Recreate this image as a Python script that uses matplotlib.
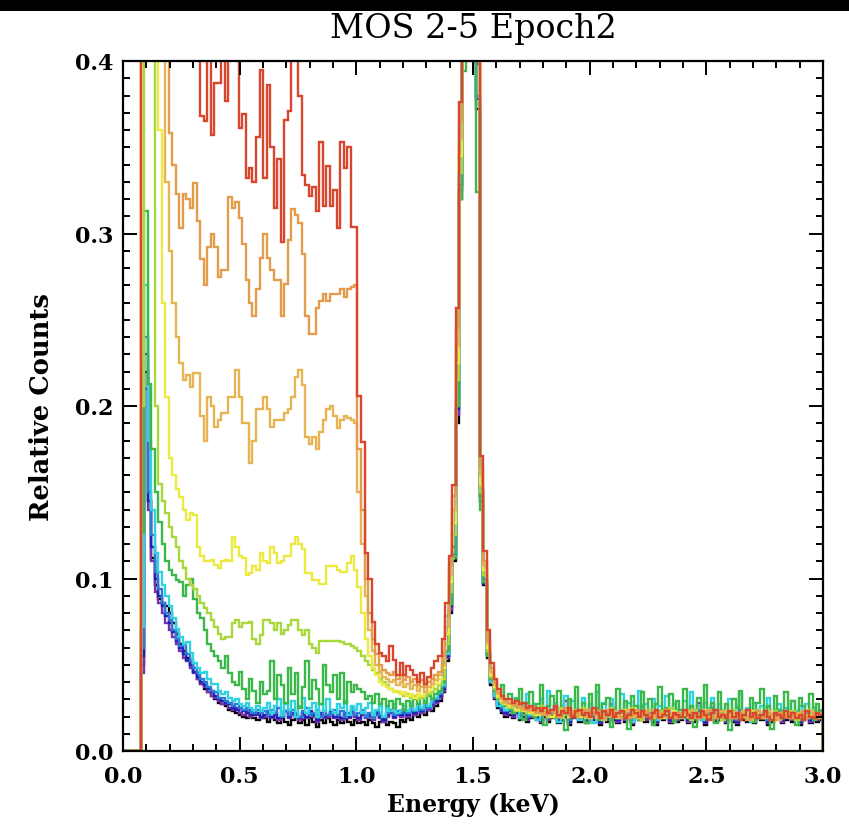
import numpy as np
import matplotlib
matplotlib.use("Agg")
import matplotlib.pyplot as plt
from matplotlib.ticker import MultipleLocator, FormatStrFormatter
from matplotlib.patches import Rectangle

# ---------------- data (relative counts x 1000, 15 eV bins from 0 keV) ----------------
bin_width_kev = 0.015

black = [0,0,0,0,0,50,220,145,112,96,
         88,86,84,80,74,68,62,58,54,50,
         46,42,39,36,34,32,30,28,27,26,
         24,23,22,21,20,19,21,19,18,19,
         19,17,20,18,16,19,17,15,18,20,
         16,18,15,19,17,14,18,16,19,17,
         15,18,16,19,17,15,18,16,17,15,
         18,16,14,17,19,15,17,16,14,18,
         17,19,18,21,20,22,21,24,23,26,
         29,34,52,80,110,190,320,999,999,999,
         999,372,145,96,54,38,30,25,22,20,
         21,19,22,18,20,17,19,21,18,16,
         20,17,19,21,16,18,20,15,19,21,
         17,19,16,20,18,21,15,19,17,20,
         18,16,21,17,19,15,20,18,22,17,
         19,17,15,20,18,21,16,19,17,18,
         20,16,19,17,21,18,15,19,22,17,
         18,20,16,19,17,15,21,18,17,19,
         16,19,18,20,15,17,19,21,16,18,
         19,17,20,15,18,19,16,20,17,18]

purple = [0,0,0,0,0,45,210,140,110,92,
          86,80,74,70,66,62,58,54,52,48,
          45,42,39,37,34,32,31,29,27,28,
          25,24,25,22,21,23,20,22,21,19,
          20,22,19,21,18,20,23,19,21,20,
          18,21,19,22,20,17,21,19,20,22,
          19,20,18,21,19,22,20,18,21,19,
          20,18,21,19,17,20,22,19,21,20,
          22,20,23,21,24,22,25,24,26,28,
          31,35,54,82,112,195,325,999,999,999,
          999,398,150,98,56,40,31,26,23,21,
          24,20,23,19,28,18,20,22,19,17,
          21,18,20,23,17,19,29,16,20,22,
          18,20,17,21,19,23,16,20,18,27,
          19,17,22,18,20,16,21,19,23,18,
          20,18,16,21,19,22,17,20,18,19,
          21,17,20,18,28,19,16,20,23,18,
          19,21,17,20,18,16,22,19,18,20,
          17,20,19,21,16,18,20,22,17,19,
          20,18,21,16,19,20,17,21,18,19]

navy = [0,0,0,0,0,55,230,145,118,100,
        90,84,78,74,69,64,60,56,53,50,
        46,43,40,38,36,34,32,30,29,28,
        27,25,24,25,23,22,24,21,22,20,
        21,23,20,22,19,21,23,20,22,21,
        19,22,20,23,21,18,22,20,21,23,
        20,21,19,22,20,23,21,19,22,20,
        21,19,22,20,18,21,23,20,22,21,
        23,21,24,22,25,23,26,25,27,29,
        32,36,55,84,114,198,328,999,999,999,
        999,378,148,97,55,40,32,27,24,22,
        23,21,24,20,22,19,21,23,20,18,
        22,19,21,24,18,20,22,17,21,23,
        19,21,18,22,20,24,17,21,19,22,
        20,18,23,19,21,17,22,20,24,19,
        21,19,17,22,20,23,18,21,19,20,
        22,18,21,19,23,20,17,21,24,19,
        20,22,18,21,19,17,23,20,19,21,
        18,21,20,22,17,19,21,23,18,20,
        21,19,22,17,20,21,18,22,19,20]

blue = [0,0,0,0,0,60,240,150,125,104,
        94,86,80,76,70,65,61,62,56,52,
        48,45,42,40,37,35,34,31,31,29,
        28,26,27,25,24,25,23,22,24,22,
        23,21,24,22,25,20,23,21,24,22,
        20,23,25,21,22,24,20,23,21,22,
        24,21,23,20,22,25,21,22,24,20,
        22,19,23,21,20,22,24,21,23,22,
        24,22,25,23,26,24,27,25,28,30,
        33,37,57,86,118,205,335,999,999,999,
        999,380,152,100,57,41,33,28,25,23,
        24,22,25,21,23,20,22,24,21,19,
        23,20,22,25,19,21,23,18,22,24,
        20,22,19,23,21,25,18,22,20,23,
        21,19,24,20,22,18,23,21,26,20,
        22,20,18,23,21,24,19,22,20,21,
        23,19,22,20,24,21,18,22,25,20,
        21,23,19,22,20,18,24,21,20,22,
        19,22,21,23,18,20,22,24,19,21,
        22,20,23,18,21,22,19,23,20,21]

cyan = [0,0,0,0,0,72,270,180,140,115,
        104,96,90,84,77,71,66,62,63,57,
        51,48,45,46,42,39,39,35,33,34,
        31,29,30,27,26,28,25,24,26,23,
        25,28,22,26,30,21,27,24,29,20,
        26,31,22,25,28,20,27,23,30,24,
        22,27,25,29,21,26,24,27,22,25,
        28,21,24,26,20,25,23,27,22,24,
        26,23,28,24,27,25,29,26,30,31,
        34,38,56,85,115,200,330,999,999,999,
        999,375,150,98,56,40,32,26,30,24,
        28,22,31,19,26,33,21,27,18,30,
        25,35,20,28,17,26,32,21,29,23,
        18,31,24,27,16,34,22,28,20,30,
        25,19,33,23,28,17,26,35,21,27,
        24,30,18,26,22,32,20,27,24,19,
        29,23,34,20,26,18,28,25,31,21,
        27,24,19,30,22,26,33,20,25,17,
        28,23,26,21,31,19,24,27,22,25,
        20,29,23,26,18,27,22,25,21,24]

green = [0,0,0,0,0,127,313,213,175,150,
         133,120,110,105,102,99,98,90,96,100,
         88,80,77,70,62,58,55,52,48,55,
         45,40,38,46,36,30,42,35,28,40,
         33,35,52,30,44,38,28,48,33,45,
         25,37,52,30,41,36,27,50,38,34,
         44,30,45,28,40,34,38,36,34,30,
         32,28,33,27,30,26,29,25,30,27,
         24,29,26,30,27,31,28,32,30,33,
         35,40,58,85,112,200,320,394,999,999,
         999,324,140,98,55,42,35,30,38,26,
         33,22,30,36,18,28,34,20,27,38,
         15,26,32,19,35,24,12,30,22,37,
         20,28,16,33,25,38,18,27,31,14,
         24,36,20,29,13,32,26,18,34,22,
         30,15,27,37,21,25,33,17,29,24,
         36,19,26,14,31,23,38,20,28,16,
         34,22,27,12,30,25,35,19,24,31,
         17,28,36,21,26,13,32,24,19,34,
         22,29,15,31,26,20,33,18,27,23]

yellowgreen = [0,0,0,0,0,200,999,999,420,200,
               155,145,138,130,124,118,110,106,100,96,
               94,90,86,83,80,76,72,68,65,66,
               66,74,76,72,74,74,75,65,62,67,
               76,76,74,70,74,68,70,73,76,76,
               70,67,70,62,60,57,64,64,64,64,
               64,64,63,62,62,61,60,58,55,52,
               50,47,45,42,40,38,36,35,34,33,
               32,33,31,32,30,31,32,33,34,36,
               38,42,62,92,125,215,335,999,999,999,
               999,960,150,102,58,43,36,31,28,27,
               25,27,23,26,24,22,25,21,23,26,
               22,20,24,21,25,19,23,22,20,24,
               21,25,19,22,24,20,23,18,22,25,
               20,22,24,19,21,25,20,22,18,23,
               24,20,21,23,19,22,25,20,21,19,
               23,21,18,24,20,22,19,23,21,20,
               22,18,23,20,24,19,21,22,20,18,
               21,24,19,22,20,18,23,21,19,22,
               20,23,18,21,22,19,24,20,21,19]

yellow = [0,0,0,0,0,999,999,999,999,999,
          360,260,205,170,160,152,147,140,134,138,
          137,118,113,110,110,111,108,106,110,111,
          110,124,118,113,112,102,103,107,105,115,
          110,109,118,115,109,110,113,113,120,124,
          120,117,103,103,99,99,97,97,107,107,
          107,105,104,104,109,113,105,95,80,65,
          55,48,44,40,38,37,36,34,35,33,
          34,32,33,31,33,32,34,35,37,39,
          42,48,68,98,132,225,345,999,999,999,
          999,970,155,105,60,44,37,32,29,27,
          26,27,24,25,23,25,22,24,21,23,
          24,22,20,23,21,24,22,20,23,21,
          20,23,22,19,24,21,22,20,23,21,
          22,19,21,24,20,22,23,19,21,22,
          20,22,24,21,19,22,20,23,21,20,
          21,23,19,22,20,21,24,20,22,19,
          22,20,23,21,19,22,20,21,19,23,
          20,22,19,21,23,20,19,22,21,20,
          22,19,21,20,23,19,21,22,20,21]

lightorange = [0,0,0,0,0,999,999,999,999,999,
               999,999,330,290,260,240,225,215,218,211,
               219,219,194,180,205,200,188,192,196,196,
               205,205,221,205,190,190,167,180,198,198,
               205,198,188,192,192,192,196,198,205,217,
               221,212,182,178,182,175,185,192,198,200,
               194,187,192,194,193,192,190,150,120,90,
               70,58,50,46,43,42,40,41,38,40,
               37,39,36,38,35,37,34,37,39,41,
               44,50,72,102,140,235,355,999,999,999,
               999,980,160,108,62,46,38,33,30,28,
               27,26,27,25,24,26,23,24,22,25,
               22,21,24,23,20,22,24,21,23,20,
               22,24,20,21,23,19,22,21,24,20,
               23,21,19,22,24,20,21,23,20,22,
               21,19,23,22,20,24,21,19,22,20,
               22,21,23,19,21,20,22,24,19,21,
               20,23,21,19,22,20,21,23,20,18,
               22,20,21,19,23,21,20,18,22,20,
               21,19,22,20,18,21,23,20,19,22]

orange = [0,0,0,0,0,999,999,999,999,999,
          999,999,999,358,340,323,303,323,320,315,
          329,307,285,270,292,300,292,275,279,279,
          321,315,318,309,294,273,260,252,268,286,
          300,286,279,273,273,252,271,296,314,311,
          306,288,252,242,242,257,261,265,261,265,
          265,265,268,263,268,269,270,175,140,100,
          80,65,56,50,47,45,44,46,42,44,
          41,43,40,42,38,41,37,40,42,44,
          46,55,78,108,148,245,365,999,999,999,
          999,990,165,110,64,48,40,34,31,29,
          28,27,26,27,25,24,25,23,22,24,
          21,23,24,22,20,23,25,21,22,20,
          23,21,24,20,22,21,23,19,22,24,
          21,20,23,22,19,21,24,20,22,23,
          20,23,21,19,22,24,20,21,19,22,
          23,20,22,21,19,22,20,23,21,19,
          22,20,21,23,19,21,22,20,18,22,
          21,23,19,20,22,21,18,22,20,21,
          19,22,20,21,23,19,20,22,19,21]

red = [0,0,0,0,0,999,999,999,999,999,
       999,999,999,999,999,999,999,999,999,999,
       999,999,368,365,999,357,387,387,402,377,
       999,999,999,361,369,332,338,330,356,395,
       332,386,350,315,343,295,366,371,999,999,
       380,334,328,322,327,313,353,316,339,316,
       325,303,353,338,350,304,304,206,179,115,
       100,75,62,57,55,52,61,53,44,51,
       44,49,47,44,40,45,39,43,48,52,
       55,65,86,113,154,257,376,999,999,999,
       999,999,171,116,70,51,42,36,32,30,
       30,28,29,27,28,25,26,24,25,23,
       25,22,24,26,21,23,22,25,20,23,
       24,21,22,20,25,22,19,23,21,24,
       20,22,23,19,21,24,22,20,23,21,
       19,22,24,20,21,23,19,22,21,20,
       24,21,19,22,20,23,21,18,22,24,
       20,21,19,23,20,22,18,21,24,20,
       22,19,21,23,20,18,22,21,19,23,
       20,22,19,21,18,23,20,19,22,21]

series_names = ["black", "purple", "navy", "blue", "cyan", "green",
                "yellowgreen", "yellow", "lightorange", "orange", "red"]
series_values = [black, purple, navy, blue, cyan, green,
                 yellowgreen, yellow, lightorange, orange, red]

# ---------------- styling ----------------
colors = {
    "black": "#000000",
    "purple": "#7b2fa8",
    "navy": "#2020b4",
    "blue": "#2b78d6",
    "cyan": "#2fd3e0",
    "green": "#3cb84a",
    "yellowgreen": "#a8d83c",
    "yellow": "#ecea40",
    "lightorange": "#e6b452",
    "orange": "#e29c4c",
    "red": "#d8462e",
}

W, H = 849, 829
fig = plt.figure(figsize=(W / 100, H / 100), dpi=100)
fig.patch.set_facecolor("white")
fig.patches.append(Rectangle((0, 1 - 12 / H), 1, 12 / H, transform=fig.transFigure,
                             facecolor="black", edgecolor="none", zorder=0))

left, right, bottom, top = 123, 823, 752, 62
ax = fig.add_axes([left / W, 1 - bottom / H, (right - left) / W, (bottom - top) / H])

for name, vals in zip(series_names, series_values):
    v = np.asarray(vals, dtype=float) / 1000.0
    edges = np.arange(len(v) + 1) * bin_width_kev
    ax.stairs(v, edges, color=colors[name], lw=1.7, baseline=0)

ax.set_xlim(0, 3.0)
ax.set_ylim(0, 0.4)

serif = ["DejaVu Serif"]
ax.xaxis.set_major_locator(MultipleLocator(0.5))
ax.xaxis.set_minor_locator(MultipleLocator(0.1))
ax.yaxis.set_major_locator(MultipleLocator(0.1))
ax.yaxis.set_minor_locator(MultipleLocator(0.01))
ax.xaxis.set_major_formatter(FormatStrFormatter("%.1f"))
ax.yaxis.set_major_formatter(FormatStrFormatter("%.1f"))
ax.tick_params(which="both", direction="in", top=True, right=True, width=1.4, color="black")
ax.tick_params(which="major", length=10)
ax.tick_params(which="minor", length=5)
ax.tick_params(axis="x", which="major", pad=10)
ax.tick_params(axis="y", which="major", pad=7)
for lab in ax.get_xticklabels() + ax.get_yticklabels():
    lab.set_fontfamily(serif)
    lab.set_fontweight("bold")
    lab.set_fontsize(16)
for sp in ax.spines.values():
    sp.set_linewidth(1.6)

ax.set_xlabel("Energy (keV)", fontsize=17, fontweight="bold", family=serif, labelpad=4)
ax.set_ylabel("Relative Counts", fontsize=18.5, fontweight="bold", family=serif, labelpad=15)
fig.text(473 / W, 1 - 29 / H, "MOS 2-5 Epoch2", ha="center", va="center",
         fontsize=24, family=serif)

fig.savefig("out.png", dpi=100, facecolor="white")
